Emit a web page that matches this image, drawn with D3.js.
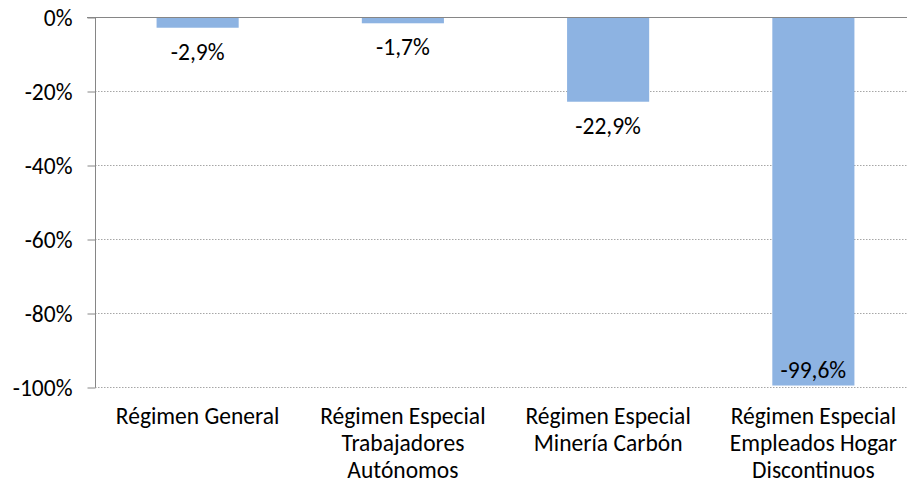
<!DOCTYPE html>
<html><head><meta charset="utf-8">
<script src="https://cdn.jsdelivr.net/npm/d3@7/dist/d3.min.js"></script>
<style>
html,body{margin:0;padding:0;background:#fff;}
svg text{font-family:Carlito,Calibri,Lato,sans-serif;fill:#000;}
</style></head>
<body><svg id="c" width="907" height="491"></svg>
<script>
const categories = [
  ["Régimen General"],
  ["Régimen Especial","Trabajadores","Autónomos"],
  ["Régimen Especial","Minería Carbón"],
  ["Régimen Especial","Empleados Hogar","Discontinuos"]
];
const values = [-0.029, -0.017, -0.229, -0.996];
const valueLabels = ["-2,9%","-1,7%","-22,9%","-99,6%"];
const yTicks = [0, -0.2, -0.4, -0.6, -0.8, -1.0];
const yTickLabels = ["0%","-20%","-40%","-60%","-80%","-100%"];

const svg = d3.select("#c");
const FS = 23.5;
const ids = categories.map((c,i)=>"c"+i);
const x = d3.scaleBand().domain(ids).range([95, 916]).paddingInner(0.6).paddingOuter(0.3);
const y = d3.scaleLinear().domain([-1, 0]).range([387, 17]);

// gridlines
svg.append("g").selectAll("line").data(yTicks.filter(t=>t!==0)).join("line")
  .attr("x1", 95).attr("x2", 907).attr("y1", d=>y(d)+0.5).attr("y2", d=>y(d)+0.5)
  .attr("stroke", "#a6a6a6").attr("stroke-width", 1).attr("stroke-dasharray", "1.5,1.5");

// y axis
const yAxis = d3.axisLeft(y).tickValues(yTicks).tickSize(8).tickPadding(0)
  .tickFormat((d,i)=>yTickLabels[i]);
const ga = svg.append("g").attr("transform","translate(95.5,0.5)").call(yAxis);
ga.select(".domain").attr("stroke","#868686").attr("d","M0,"+(y(-1))+"V"+y(0));
ga.selectAll(".tick line").attr("stroke","#868686");
ga.selectAll(".tick text").attr("x",-23).attr("dy","0.35em").attr("font-size",FS)
  .attr("font-family","Carlito,Calibri,Lato,sans-serif").attr("fill","#000");

// bars
svg.append("g").selectAll("rect").data(values).join("rect")
  .attr("x",(d,i)=>x(ids[i])).attr("width",x.bandwidth())
  .attr("y",y(0)).attr("height",d=>y(d)-y(0))
  .attr("fill","#8db3e2");

// zero line
svg.append("line").attr("x1",87).attr("x2",907).attr("y1",y(0)+0.5).attr("y2",y(0)+0.5)
  .attr("stroke","#868686").attr("stroke-width",1);

// data labels
svg.append("g").selectAll("text").data(values).join("text")
  .attr("x",(d,i)=>x(ids[i])+x.bandwidth()/2)
  .attr("y",d=>{const e=y(d); return (e+32>y(-1)) ? e-8 : e+32;})
  .attr("text-anchor","middle").attr("font-size",FS)
  .text((d,i)=>valueLabels[i]);

// category labels
const cl = svg.append("g").selectAll("text").data(categories).join("text")
  .attr("x",(d,i)=>x(ids[i])+x.bandwidth()/2)
  .attr("y",424).attr("text-anchor","middle").attr("font-size",FS);
cl.selectAll("tspan").data(d=>d).join("tspan")
  .attr("x",function(){return this.parentNode.getAttribute("x");})
  .attr("dy",(d,i)=>i===0?0:27).text(d=>d);
</script></body></html>
